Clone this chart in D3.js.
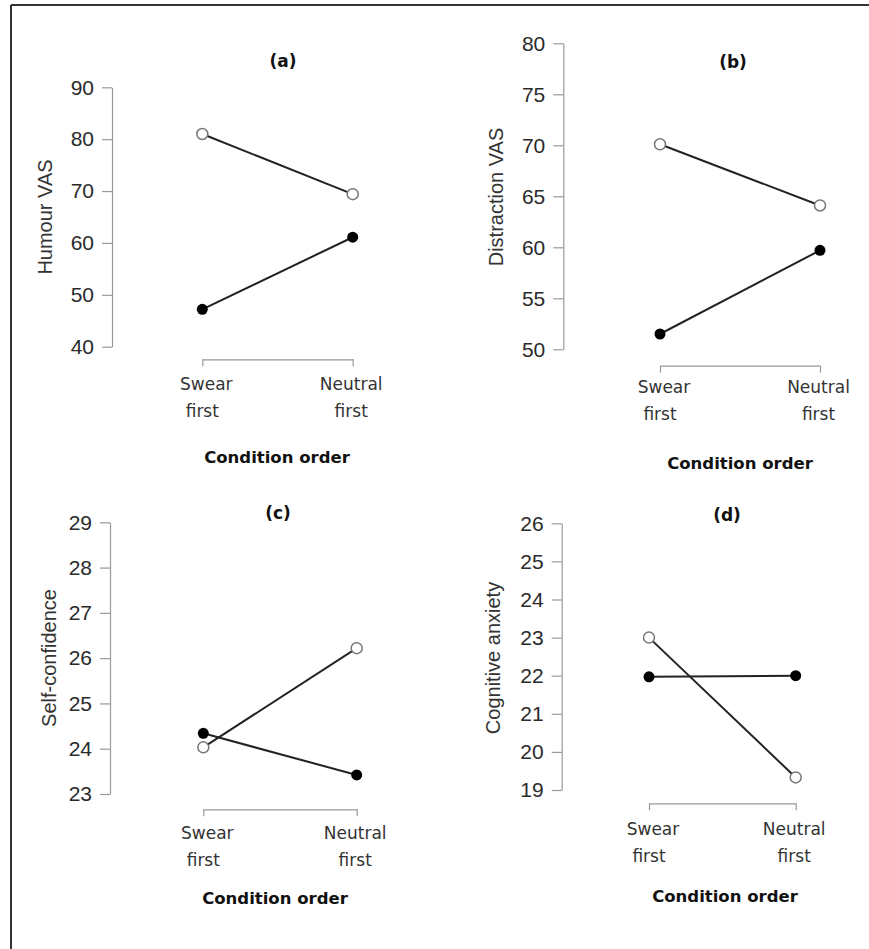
<!DOCTYPE html>
<html>
<head>
<meta charset="utf-8">
<script src="https://cdn.jsdelivr.net/npm/d3@7"></script>
<style>
  body { margin: 0; background: #fff; }
  svg { display: block; }
</style>
</head>
<body>
<div id="chart"></div>
<script>
// data
var conditions = ["Swear first", "Neutral first"];
var panelTitles = ["(a)", "(b)", "(c)", "(d)"];
var yLabels = ["Humour VAS", "Distraction VAS", "Self-confidence", "Cognitive anxiety"];
var yTicks = [
    [40, 50, 60, 70, 80, 90],
    [50, 55, 60, 65, 70, 75, 80],
    [23, 24, 25, 26, 27, 28, 29],
    [19, 20, 21, 22, 23, 24, 25, 26]
];
var openSeries = [[81.0, 69.4], [70.1, 64.1], [24.03, 26.22], [23.0, 19.33]];
var filledSeries = [[47.2, 61.1], [51.5, 59.7], [24.34, 23.42], [21.97, 22.0]];

// where each panel sits on the page
var layout = [
    {ax: 112, top: 87.3, bot: 346.7, x1: 202.3, x2: 352.7, by: 359.3, lab: 384, cx: 277, cy: 457, tx: 283, ty: 61, yx: 45, yy: 217},
    {ax: 563.3, top: 43.3, bot: 349.3, x1: 660, x2: 820, by: 365.7, lab: 387, cx: 740, cy: 463, tx: 733, ty: 62, yx: 496, yy: 197},
    {ax: 110, top: 522.3, bot: 794, x1: 203.3, x2: 356.7, by: 809.3, lab: 833, cx: 275, cy: 898, tx: 278, ty: 513, yx: 49, yy: 658},
    {ax: 561.7, top: 523.3, bot: 790, x1: 649, x2: 795.7, by: 803.3, lab: 829, cx: 725, cy: 896, tx: 727, ty: 515, yx: 493, yy: 658}
];

var w = 869, h = 949;
var svg = d3.select("#chart").append("svg")
    .attr("width", w)
    .attr("height", h);

// frame (only top and left edges show)
svg.append("line").attr("x1", 11).attr("y1", 5).attr("x2", w).attr("y2", 5)
    .attr("stroke", "#333").attr("stroke-width", 2);
svg.append("line").attr("x1", 11).attr("y1", 5).attr("x2", 11).attr("y2", h)
    .attr("stroke", "#333").attr("stroke-width", 2);

var sansTick = "'Liberation Sans', Arial, sans-serif";
var humanist = "'DejaVu Sans', Verdana, sans-serif";

layout.forEach(function(p, i) {
    var g = svg.append("g");
    var ticks = yTicks[i];

    var yScale = d3.scaleLinear()
        .domain([ticks[0], ticks[ticks.length - 1]])
        .range([p.bot, p.top]);

    var xScale = d3.scalePoint()
        .domain(conditions)
        .range([p.x1, p.x2]);

    // y axis, R style
    var yAxis = g.append("g")
        .attr("transform", "translate(" + p.ax + ",0)")
        .call(d3.axisLeft(yScale)
            .tickValues(ticks)
            .tickFormat(d3.format("d"))
            .tickSize(10).tickSizeOuter(0).tickPadding(8));
    yAxis.selectAll("path, line").attr("stroke", "#999").attr("stroke-width", 1.2);
    yAxis.selectAll("text")
        .attr("fill", "#2a2a2a")
        .style("font-family", sansTick)
        .style("font-size", "21px");

    // x axis bracket
    var xAxis = g.append("g")
        .attr("transform", "translate(0," + p.by + ")")
        .call(d3.axisBottom(xScale).tickSize(7).tickSizeOuter(0).tickFormat(""));
    xAxis.selectAll("path, line").attr("stroke", "#999").attr("stroke-width", 1.2);

    // two-line condition labels
    conditions.forEach(function(c, ci) {
        var words = c.split(" ");
        var t = g.append("text")
            .attr("text-anchor", "middle")
            .attr("fill", "#333")
            .style("font-family", humanist)
            .style("font-size", "17px");
        words.forEach(function(wd, k) {
            var dx = (ci === 0 && k === 0) ? 4 : (ci === 1 ? -1.5 : 0);
            t.append("tspan")
                .attr("x", xScale(c) + dx)
                .attr("y", p.lab + 6 + k * 27)
                .text(wd);
        });
    });

    g.append("text")
        .attr("x", p.cx).attr("y", p.cy + 6)
        .attr("text-anchor", "middle")
        .attr("fill", "#111")
        .style("font-family", humanist)
        .style("font-weight", "bold")
        .style("font-size", "16.5px")
        .text("Condition order");

    g.append("text")
        .attr("x", p.tx).attr("y", p.ty + 6)
        .attr("text-anchor", "middle")
        .attr("fill", "#111")
        .style("font-family", humanist)
        .style("font-weight", "bold")
        .style("font-size", "17px")
        .text(panelTitles[i]);

    g.append("text")
        .attr("transform", "translate(" + (p.yx + 7) + "," + p.yy + ") rotate(-90)")
        .attr("text-anchor", "middle")
        .attr("fill", "#333")
        .style("font-family", sansTick)
        .style("font-size", "20px")
        .text(yLabels[i]);

    var line = d3.line()
        .x(function(d, k) { return xScale(conditions[k]); })
        .y(function(d) { return yScale(d); });

    [openSeries[i], filledSeries[i]].forEach(function(s) {
        g.append("path")
            .attr("d", line(s))
            .attr("fill", "none")
            .attr("stroke", "#222")
            .attr("stroke-width", 2);
    });

    // filled dots
    g.selectAll(".filled")
        .data(filledSeries[i])
        .enter()
        .append("circle")
        .attr("class", "filled")
        .attr("cx", function(d, k) { return xScale(conditions[k]); })
        .attr("cy", function(d) { return yScale(d); })
        .attr("r", 5.5)
        .attr("fill", "#000");

    // open dots
    g.selectAll(".open")
        .data(openSeries[i])
        .enter()
        .append("circle")
        .attr("class", "open")
        .attr("cx", function(d, k) { return xScale(conditions[k]); })
        .attr("cy", function(d) { return yScale(d); })
        .attr("r", 5.5)
        .attr("fill", "#fff")
        .attr("stroke", "#777")
        .attr("stroke-width", 1.5);
});
</script>
</body>
</html>
